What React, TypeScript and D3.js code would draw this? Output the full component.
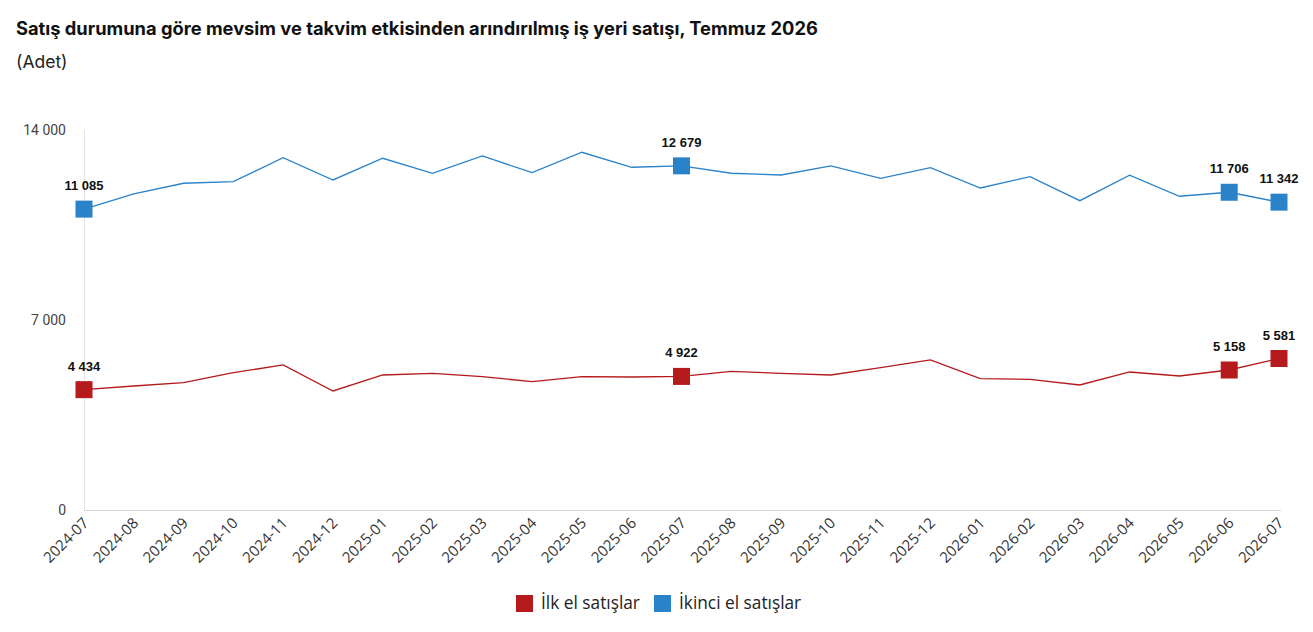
import { useEffect, useRef } from "react";
import * as d3 from "d3";

// months on the x axis
const months = [
  "2024-07", "2024-08", "2024-09", "2024-10", "2024-11", "2024-12",
  "2025-01", "2025-02", "2025-03", "2025-04", "2025-05", "2025-06",
  "2025-07", "2025-08", "2025-09", "2025-10", "2025-11", "2025-12",
  "2026-01", "2026-02", "2026-03", "2026-04", "2026-05", "2026-06",
  "2026-07",
];

// İlk el satışlar
const firstHand = [
  4434, 4569, 4691, 5059, 5343, 4385, 4974, 5036, 4912, 4728, 4912, 4900,
  4922, 5110, 5036, 4974, 5243, 5527, 4838, 4814, 4606, 5085, 4937, 5158,
  5581,
];

// İkinci el satışlar
const secondHand = [
  11085, 11643, 12038, 12097, 12981, 12159, 12959, 12406, 13043, 12428,
  13180, 12627, 12679, 12406, 12343, 12675, 12221, 12612, 11864, 12281,
  11396, 12333, 11559, 11706, 11342,
];

const yTicks = [0, 7000, 14000];
// indexes that get a marker + value label
const labelled = [0, 12, 23, 24];

const seriesNames = ["İlk el satışlar", "İkinci el satışlar"];
const colors = ["#b51a1c", "#2a83c8"];

const fmt = (v: number) => d3.format(",")(v).replace(/,/g, " ");

const Chart: React.FC = () => {
  const svgRef = useRef<SVGSVGElement>(null);

  useEffect(() => {
    if (!svgRef.current) return;
    const svg = d3.select(svgRef.current);
    svg.selectAll("*").remove();

    const width = 1313;
    const height = 632;

    const x = d3
      .scalePoint<string>()
      .domain(months)
      .range([84, 1279]);

    const y = d3.scaleLinear().domain([0, 14000]).range([510, 130]);

    // title
    svg
      .append("text")
      .attr("x", 16)
      .attr("y", 35)
      .attr("font-family", "Inter, 'Noto Sans', sans-serif")
      .attr("font-weight", 700)
      .attr("font-size", 18.3)
      .attr("fill", "#111")
      .text(
        "Satış durumuna göre mevsim ve takvim etkisinden arındırılmış iş yeri satışı, Temmuz 2026"
      );

    svg
      .append("text")
      .attr("x", 16)
      .attr("y", 68)
      .attr("font-family", "Inter, 'Noto Sans', sans-serif")
      .attr("font-size", 17.5)
      .attr("fill", "#222")
      .text("(Adet)");

    // left axis line
    svg
      .append("line")
      .attr("x1", 84.5)
      .attr("x2", 84.5)
      .attr("y1", y(14000))
      .attr("y2", y(0))
      .attr("stroke", "#e3e3e3");

    // bottom axis
    const xAxis = svg
      .append("g")
      .attr("transform", `translate(0,${y(0)})`)
      .call(d3.axisBottom(x).tickSize(0).tickPadding(0));
    xAxis.select(".domain").attr("stroke", "#d6d6d6").attr("d", `M84,0.5H1281`);
    xAxis
      .selectAll("text")
      .attr("font-family", "'Open Sans', 'Noto Sans', sans-serif")
      .attr("font-size", 15)
      .attr("fill", "#333")
      .attr("text-anchor", "end")
      .attr("dy", null)
      .attr("y", 0)
      .attr("transform", "translate(5,14) rotate(-45)");

    // y tick labels
    svg
      .append("g")
      .selectAll("text")
      .data(yTicks)
      .join("text")
      .attr("x", 66)
      .attr("y", (d) => y(d) + 5)
      .attr("text-anchor", "end")
      .attr("font-family", "Roboto, 'Noto Sans', sans-serif")
      .attr("font-size", 14)
      .attr("fill", "#444")
      .text((d) => fmt(d));

    const line = d3
      .line<number>()
      .x((_, i) => x(months[i]) as number)
      .y((d) => y(d));

    [firstHand, secondHand].forEach((data, s) => {
      svg
        .append("path")
        .datum(data)
        .attr("fill", "none")
        .attr("stroke", colors[s])
        .attr("stroke-width", 1.3)
        .attr("d", line);

      const pts = labelled.map((i) => ({ i, v: data[i] }));

      svg
        .append("g")
        .selectAll("rect")
        .data(pts)
        .join("rect")
        .attr("x", (d) => (x(months[d.i]) as number) - 8.5)
        .attr("y", (d) => y(d.v) - 8.5)
        .attr("width", 17)
        .attr("height", 17)
        .attr("fill", colors[s]);

      svg
        .append("g")
        .selectAll("text")
        .data(pts)
        .join("text")
        .attr("x", (d) => x(months[d.i]) as number)
        .attr("y", (d) => y(d.v) - 19)
        .attr("text-anchor", "middle")
        .attr("font-family", "'Liberation Sans', Arial, sans-serif")
        .attr("font-weight", 700)
        .attr("font-size", 13)
        .attr("fill", "#111")
        .text((d) => fmt(d.v));
    });

    // legend
    const legend = svg.append("g");
    const legendX = [516, 654];
    seriesNames.forEach((name, s) => {
      legend
        .append("rect")
        .attr("x", legendX[s])
        .attr("y", 595)
        .attr("width", 17)
        .attr("height", 17)
        .attr("fill", colors[s]);
      legend
        .append("text")
        .attr("x", legendX[s] + 25)
        .attr("y", 609)
        .attr("font-family", "'Open Sans', 'Noto Sans', sans-serif")
        .attr("font-size", 17.3)
        .attr("fill", "#222")
        .text(name);
    });

    svg.attr("width", width).attr("height", height);
  }, []);

  return <svg ref={svgRef} width={1313} height={632} style={{ display: "block" }}></svg>;
};

export default function App() {
  return (
    <div style={{ position: "fixed", left: 0, top: 0, background: "#fff" }}>
      <Chart />
    </div>
  );
}
